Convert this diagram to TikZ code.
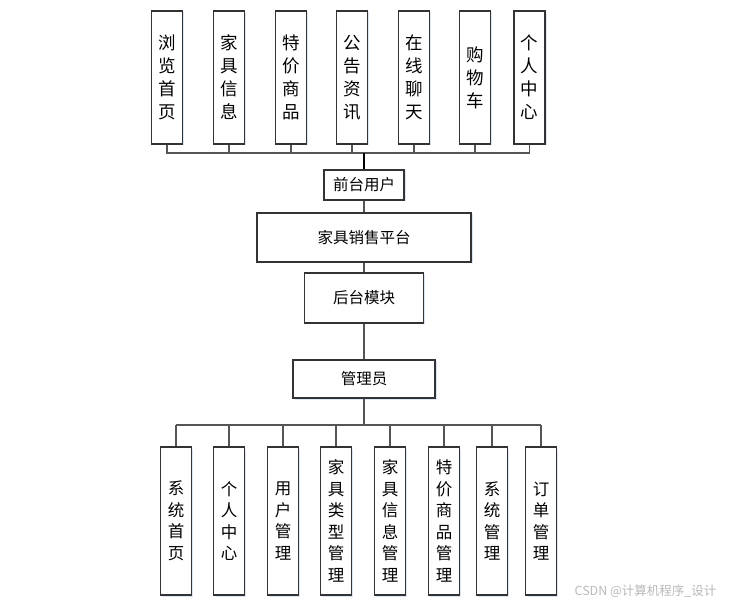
\documentclass[tikz,border=0pt]{standalone}
\usepackage{fontspec}
\setmainfont{Noto Sans CJK SC}
\usetikzlibrary{positioning,shadows}
\definecolor{edge}{HTML}{555555}
\definecolor{frame}{HTML}{333333}
\definecolor{shade}{HTML}{DCE6F4}

\begin{document}
\begin{tikzpicture}[x=1pt,y=-1pt,line join=miter,
      modbox/.style={draw=frame,line width=1.1pt,fill=white,align=center,inner sep=0pt,
        drop shadow={shadow xshift=1.5pt,shadow yshift=-1.5pt,fill=shade,opacity=1}},
      topbox/.style={modbox,minimum width=31pt,minimum height=133pt,font=\fontsize{17.5}{23}\selectfont},
      subbox/.style={modbox,minimum width=31pt,minimum height=148pt,font=\fontsize{16.5}{21.5}\selectfont},
      midbox/.style={modbox,font=\fontsize{15.5}{18}\selectfont},
      link/.style={draw=edge,line width=1.1pt}]
    \useasboundingbox[fill=white] (0,0) rectangle (729,604);
    % front user side
    \foreach \n/\x/\t in {1/167/浏\\览\\首\\页,2/229/家\\具\\信\\息,3/291/特\\价\\商\\品,
        4/352/公\\告\\资\\讯,5/414/在\\线\\聊\\天,6/475/购\\物\\车,7/529.5/个\\人\\中\\心}{
      \node[topbox] (t\n) at (\x,77.5) {\t};}
    \node[midbox,minimum width=80pt,minimum height=30pt] (user) at (364,185) {前台用户};
    \node[midbox,minimum width=214pt,minimum height=49pt] (platform) at (364,237.5) {家具销售平台};
    \node[midbox,minimum width=119pt,minimum height=50pt] (back) at (364,298) {后台模块};
    \node[midbox,minimum width=142pt,minimum height=38pt] (admin) at (364,379) {管理员};
    % admin side
    \foreach \n/\x/\t in {1/176/系\\统\\首\\页,2/229/个\\人\\中\\心,3/283/用\\户\\管\\理,
        4/336/家\\具\\类\\型\\管\\理,5/390/家\\具\\信\\息\\管\\理,6/444/特\\价\\商\\品\\管\\理,
        7/492/系\\统\\管\\理,8/541/订\\单\\管\\理}{
      \node[subbox] (b\n) at (\x,521) {\t};}
    \coordinate (tbus) at (364,153);
    \coordinate (bbus) at (364,425);
    \foreach \n in {1,...,7}{
      \draw[link] (t\n.south) |- (tbus);}
    \draw[link] (t1.south |- tbus) -- (t7.south |- tbus);
    \draw[black,line width=2pt] (tbus) -- (user);
    \foreach \a/\b in {user/platform,platform/back,back/admin}{
      \draw[link] (\a) -- (\b);}
    \draw[link] (admin) -- (bbus);
    \draw[link] (b1.north |- bbus) -- (b8.north |- bbus);
    \foreach \n in {1,...,8}{
      \draw[link] (bbus -| b\n.north) -- (b\n.north);}
    \node[text=gray!55,font=\fontsize{12.5}{14}\selectfont,anchor=east] (mark) at (720,591) {CSDN @计算机程序\_设计};
  \end{tikzpicture}
\end{document}
